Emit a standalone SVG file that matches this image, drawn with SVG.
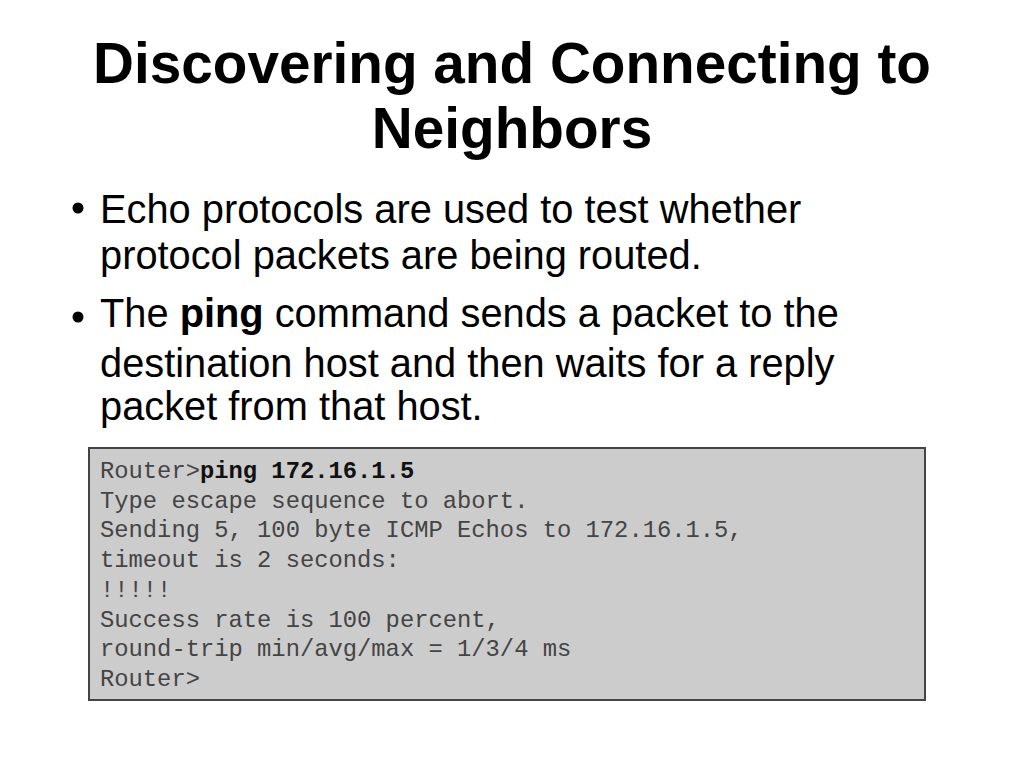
<svg xmlns="http://www.w3.org/2000/svg" width="1024" height="768" viewBox="0 0 1024 768">
<style>
.title{font-family:"Liberation Sans",Arial,sans-serif;font-weight:bold;font-size:56.7px;fill:#000;text-anchor:middle}
.body{font-family:"Liberation Sans",Arial,sans-serif;font-size:39.8px;fill:#000}
.code{font-family:"Liberation Mono","Courier New",monospace;font-size:23.8px;fill:#444}
.b{font-weight:bold;fill:#111}
</style>
<rect x="0" y="0" width="1024" height="768" fill="#fff"/>
<g id="title">
<text class="title" x="512" y="83">Discovering and Connecting to</text>
<text class="title" x="512" y="148">Neighbors</text>
</g>
<g id="bullets">
<circle cx="78" cy="208" r="5.5" fill="#000"/>
<text class="body" x="100" y="223">Echo protocols are used to test whether</text>
<text class="body" x="100" y="269">protocol packets are being routed.</text>
<circle cx="78" cy="317" r="5.5" fill="#000"/>
<text class="body" x="100" y="327">The <tspan font-weight="bold">ping</tspan> command sends a packet to the</text>
<text class="body" x="100" y="377">destination host and then waits for a reply</text>
<text class="body" x="100" y="420">packet from that host.</text>
</g>
<g id="console">
<rect x="89" y="448" width="836" height="252" fill="#cccccc" stroke="#444" stroke-width="2"/>
<text class="code" x="100" y="478">Router&gt;<tspan class="b">ping 172.16.1.5</tspan></text>
<text class="code" x="100" y="508">Type escape sequence to abort.</text>
<text class="code" x="100" y="537">Sending 5, 100 byte ICMP Echos to 172.16.1.5,</text>
<text class="code" x="100" y="567">timeout is 2 seconds:</text>
<text class="code" x="100" y="597">!!!!!</text>
<text class="code" x="100" y="627">Success rate is 100 percent,</text>
<text class="code" x="100" y="656">round-trip min/avg/max = 1/3/4 ms</text>
<text class="code" x="100" y="686">Router&gt;</text>
</g>
</svg>
